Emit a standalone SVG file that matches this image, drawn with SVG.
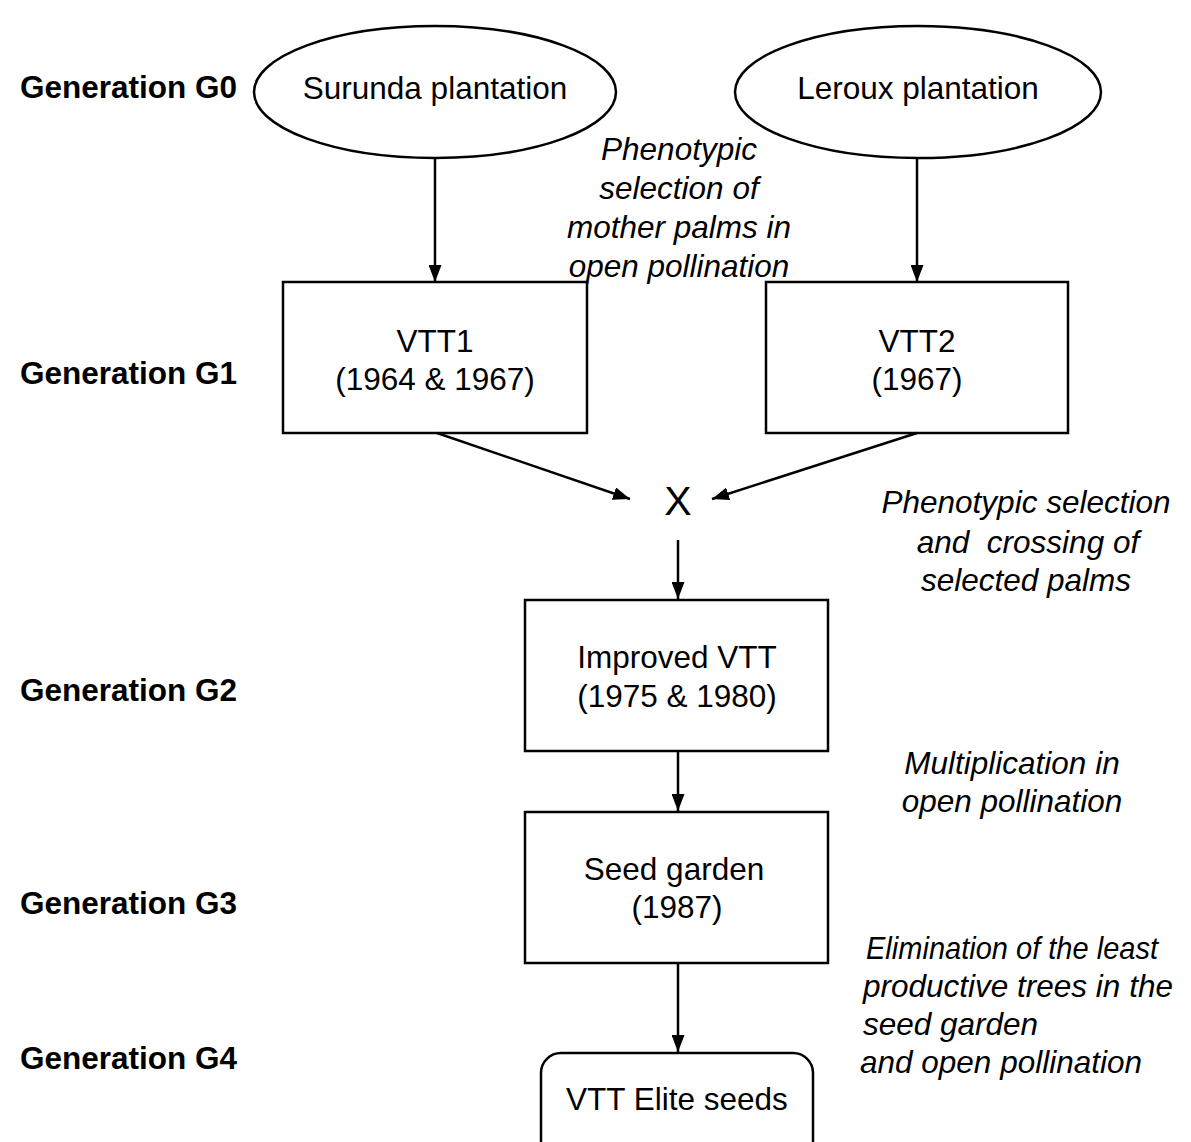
<svg xmlns="http://www.w3.org/2000/svg" width="1191" height="1142" viewBox="0 0 1191 1142">
<defs>
<marker id="ah" markerWidth="17" markerHeight="13" refX="17" refY="6.5" orient="auto" markerUnits="userSpaceOnUse" viewBox="0 0 17 13">
<path d="M0,0 L17,6.5 L0,13 z" fill="#000"/>
</marker>
<style>
text{font-family:"Liberation Sans",Arial,sans-serif;font-size:31.5px;fill:#000}
.gen{font-weight:bold}
.it{font-style:italic}
.c{text-anchor:middle}
.shape{fill:#fff;stroke:#000;stroke-width:2.5}
.edge{stroke:#000;stroke-width:2.5;fill:none;marker-end:url(#ah)}
</style>
</defs>
<rect width="1191" height="1142" fill="#fff"/>
<g id="labels">
<text class="gen" x="20" y="98">Generation G0</text>
<text class="gen" x="20" y="384">Generation G1</text>
<text class="gen" x="20" y="701">Generation G2</text>
<text class="gen" x="20" y="914">Generation G3</text>
<text class="gen" x="20" y="1069">Generation G4</text>
</g>
<g id="notes">
<text class="it c" x="679" y="160">Phenotypic</text>
<text class="it c" x="679" y="199">selection of</text>
<text class="it c" x="679" y="238">mother palms in</text>
<text class="it c" x="679" y="277">open pollination</text>
<text class="it c" x="1026" y="513">Phenotypic selection</text>
<text class="it c" x="1028" y="553" xml:space="preserve">and  crossing of</text>
<text class="it c" x="1026" y="591">selected palms</text>
<text class="it c" x="1012" y="774">Multiplication in</text>
<text class="it c" x="1012" y="812">open pollination</text>
<text class="it" x="866" y="959" textLength="292" lengthAdjust="spacingAndGlyphs">Elimination of the least</text>
<text class="it" x="863" y="997">productive trees in the</text>
<text class="it" x="863" y="1035">seed garden</text>
<text class="it" x="860" y="1073">and open pollination</text>
</g>
<g id="surunda">
<ellipse class="shape" cx="435" cy="92" rx="181" ry="66"/>
<text class="c" x="435" y="99">Surunda plantation</text>
</g>
<g id="leroux">
<ellipse class="shape" cx="918" cy="92" rx="183" ry="66"/>
<text class="c" x="918" y="99">Leroux plantation</text>
</g>
<g id="vtt1">
<rect class="shape" x="283" y="282" width="304" height="151"/>
<text class="c" x="435" y="352">VTT1</text>
<text class="c" x="435" y="390">(1964 &amp; 1967)</text>
</g>
<g id="vtt2">
<rect class="shape" x="766" y="282" width="302" height="151"/>
<text class="c" x="917" y="352">VTT2</text>
<text class="c" x="917" y="390">(1967)</text>
</g>
<g id="cross">
<text class="c" x="678" y="515" style="font-size:41px">X</text>
</g>
<g id="improved">
<rect class="shape" x="525" y="600" width="303" height="151"/>
<text class="c" x="677" y="668">Improved VTT</text>
<text class="c" x="677" y="707">(1975 &amp; 1980)</text>
</g>
<g id="seedgarden">
<rect class="shape" x="525" y="812" width="303" height="151"/>
<text class="c" x="674" y="880">Seed garden</text>
<text class="c" x="677" y="918">(1987)</text>
</g>
<g id="elite">
<rect class="shape" x="541" y="1053" width="272" height="110" rx="20" ry="20"/>
<text class="c" x="677" y="1110">VTT Elite seeds</text>
</g>
<g id="connectors">
<line class="edge" x1="435" y1="158" x2="435" y2="282"/>
<line class="edge" x1="917" y1="158" x2="917" y2="282"/>
<line class="edge" x1="437" y1="433" x2="630" y2="499"/>
<line class="edge" x1="917" y1="433" x2="712" y2="499"/>
<line class="edge" x1="678" y1="540" x2="678" y2="599"/>
<line class="edge" x1="678" y1="751" x2="678" y2="811"/>
<line class="edge" x1="678" y1="963" x2="678" y2="1052"/>
</g>
</svg>
